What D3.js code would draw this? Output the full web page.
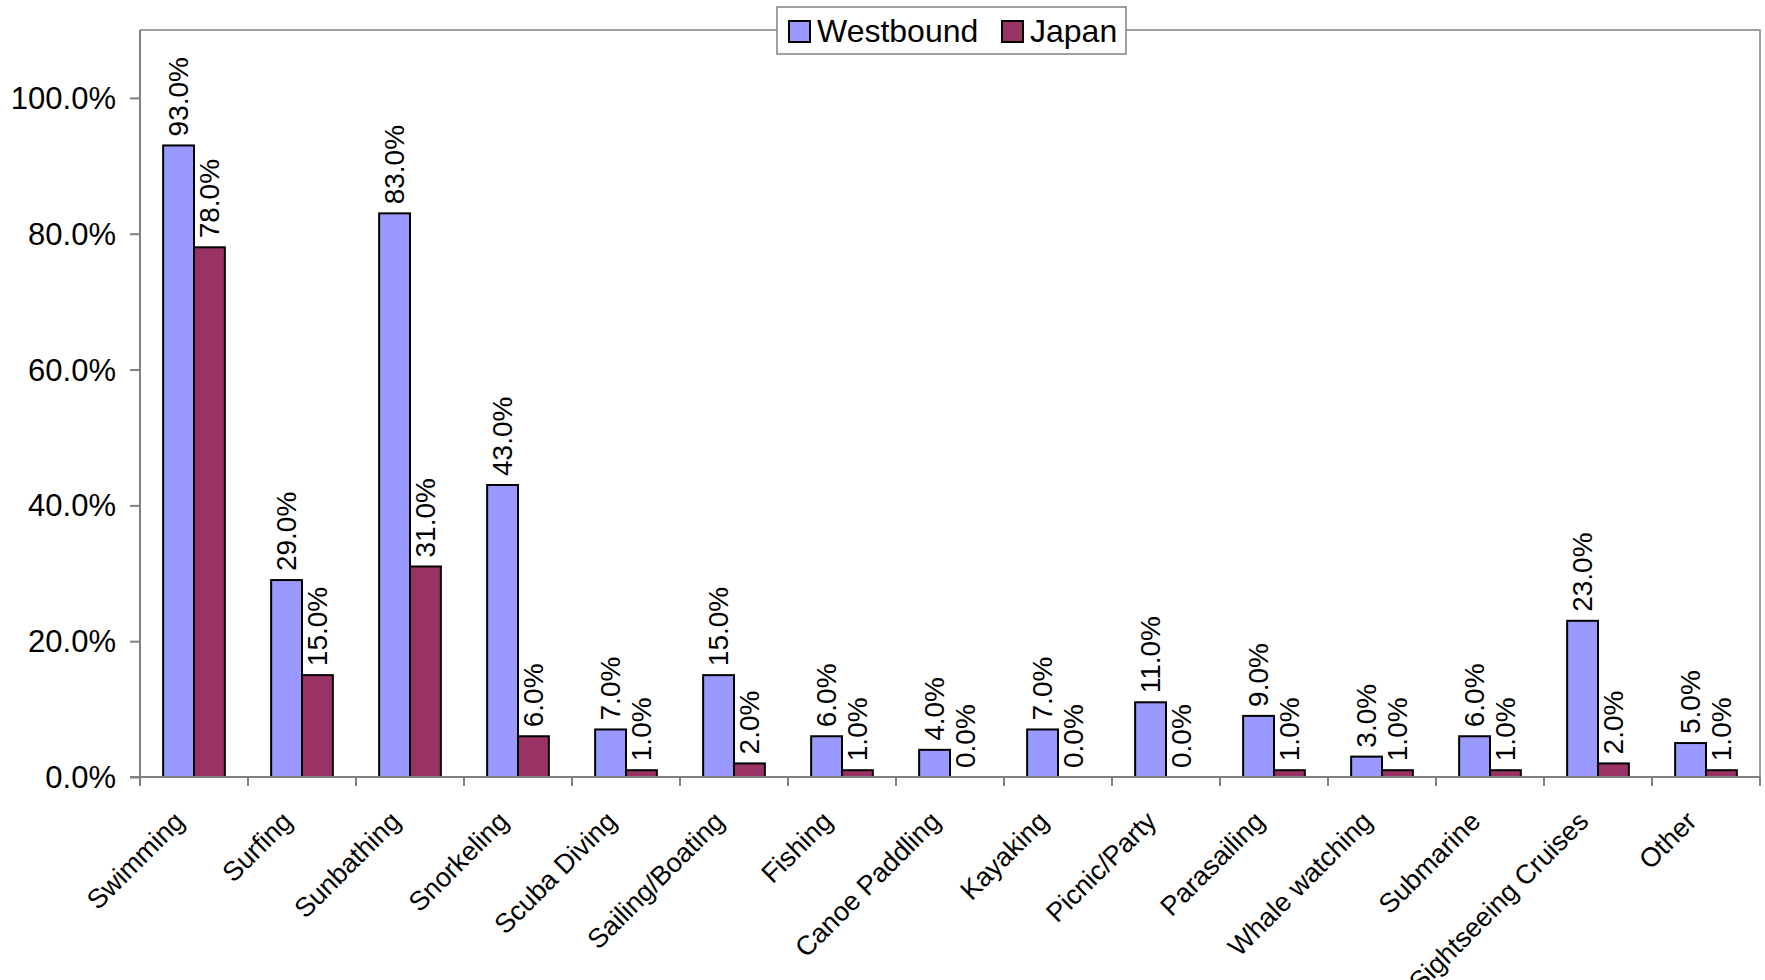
<!DOCTYPE html>
<html>
<head>
<meta charset="utf-8">
<script src="https://cdn.jsdelivr.net/npm/d3@7"></script>
<style>
  html, body { margin: 0; padding: 0; background: #fff; }
  svg { display: block; font-family: "Liberation Sans", Arial, sans-serif; }
</style>
</head>
<body>
<svg id="chart" width="1765" height="980"></svg>
<script>
// Beach / ocean activities by visitor market (share of respondents, %)
const categories = [
  "Swimming", "Surfing", "Sunbathing", "Snorkeling", "Scuba Diving",
  "Sailing/Boating", "Fishing", "Canoe Paddling", "Kayaking", "Picnic/Party",
  "Parasailing", "Whale watching", "Submarine", "Sightseeing Cruises", "Other"
];
const seriesNames = ["Westbound", "Japan"];
const westbound = [93, 29, 83, 43, 7, 15, 6, 4, 7, 11, 9, 3, 6, 23, 5];
const japan     = [78, 15, 31, 6, 1, 2, 1, 0, 0, 0, 1, 1, 1, 2, 1];
const yTicks = [0, 20, 40, 60, 80, 100];
const colors = ["#9999FF", "#993366"];

const svg = d3.select("#chart");
const plot = { left: 140, right: 1760, top: 30, bottom: 777 };

const x = d3.scaleBand().domain(categories).range([plot.left, plot.right]);
const xs = d3.scaleBand().domain(seriesNames).range([0, x.bandwidth()])
  .paddingInner(0).paddingOuter(0.75);
const y = d3.scaleLinear().domain([0, 110]).range([plot.bottom, plot.top]);

const rows = categories.map((c, i) => ({ cat: c, vals: [westbound[i], japan[i]] }));

// plot area frame (top and right edges)
svg.append("path")
  .attr("d", `M${plot.left},${plot.top}H${plot.right}V${plot.bottom}`)
  .attr("fill", "none").attr("stroke", "#a0a0a0").attr("stroke-width", 2);

// bars
const groups = svg.append("g").selectAll("g").data(rows).join("g")
  .attr("transform", d => `translate(${x(d.cat)},0)`);

groups.selectAll("rect")
  .data(d => d.vals.map((v, k) => ({ s: seriesNames[k], v, k })))
  .join("rect")
  .attr("x", d => xs(d.s))
  .attr("y", d => y(d.v))
  .attr("width", xs.bandwidth())
  .attr("height", d => y(0) - y(d.v))
  .attr("fill", d => colors[d.k])
  .attr("stroke", "#000")
  .attr("stroke-width", 2);

// value labels, rotated
groups.selectAll("text")
  .data(d => d.vals.map((v, k) => ({ s: seriesNames[k], v, k })))
  .join("text")
  .attr("transform", d => `translate(${xs(d.s) + xs.bandwidth() / 2 - 1},${y(d.v) - 9}) rotate(-90)`)
  .attr("text-anchor", "start")
  .attr("dy", "0.36em")
  .attr("font-size", 28)
  .attr("fill", "#000")
  .text(d => d.v.toFixed(1) + "%");

// y axis
const yAxis = svg.append("g")
  .attr("transform", `translate(${plot.left},0)`)
  .call(d3.axisLeft(y).tickValues(yTicks).tickSize(10).tickSizeOuter(0)
    .tickFormat(d => d.toFixed(1) + "%"));
yAxis.select(".domain").attr("stroke", "#808080").attr("stroke-width", 2)
  .attr("d", `M0,${plot.top}V${plot.bottom}`);
yAxis.selectAll(".tick line").attr("stroke", "#808080").attr("stroke-width", 2);
yAxis.selectAll(".tick text")
  .attr("x", -24).attr("dy", "0.34em")
  .attr("font-size", 31).attr("font-family", "Liberation Sans, Arial, sans-serif")
  .attr("fill", "#000");

// x axis: baseline, boundary ticks, rotated category names
const xAxis = svg.append("g");
xAxis.append("line")
  .attr("x1", plot.left - 10).attr("x2", plot.right)
  .attr("y1", y(0)).attr("y2", y(0))
  .attr("stroke", "#808080").attr("stroke-width", 2);
const bounds = categories.map(c => x(c)).concat([x.range()[1]]);
xAxis.selectAll("line.tk").data(bounds).join("line")
  .attr("class", "tk")
  .attr("x1", d => d).attr("x2", d => d)
  .attr("y1", y(0)).attr("y2", y(0) + 9)
  .attr("stroke", "#808080").attr("stroke-width", 2);
xAxis.selectAll("text").data(categories).join("text")
  .attr("transform", c => `translate(${x(c) + x.bandwidth() / 2 - 8},${y(0) + 46}) rotate(-45)`)
  .attr("text-anchor", "end")
  .attr("font-size", 27)
  .attr("fill", "#000")
  .text(c => c);

// legend
const legend = svg.append("g");
legend.append("rect")
  .attr("x", 777).attr("y", 7).attr("width", 349).attr("height", 47)
  .attr("fill", "#fff").attr("stroke", "#808080").attr("stroke-width", 1.5);
const legendX = [789, 1002];
const items = legend.selectAll("g").data(seriesNames).join("g")
  .attr("transform", (d, i) => `translate(${legendX[i]},21)`);
items.append("rect")
  .attr("width", 21).attr("height", 21)
  .attr("fill", (d, i) => colors[i]).attr("stroke", "#000").attr("stroke-width", 2);
items.append("text")
  .attr("x", 28).attr("y", 21)
  .attr("font-size", 32).attr("fill", "#000")
  .text(d => d);
</script>
</body>
</html>
